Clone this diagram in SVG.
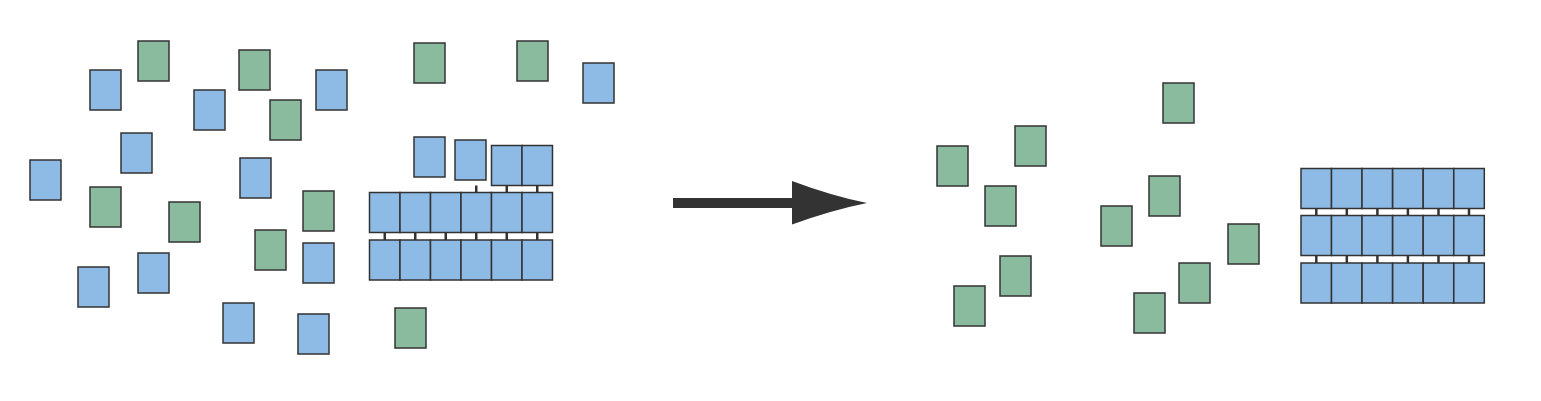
<svg xmlns="http://www.w3.org/2000/svg" width="1541" height="401" viewBox="0 0 1541 401">
<style>
.b{fill:#8ebbe6;stroke:#333;stroke-width:1.5}
.g{fill:#8bbb9e;stroke:#333;stroke-width:1.5}
.k{stroke:#333;stroke-width:2.5}
</style>
<defs>
<rect id="cb" class="b" width="31" height="40"/>
<rect id="cg" class="g" width="31" height="40"/>
<rect id="gc" class="b" width="30.5" height="40"/>
</defs>
<rect width="1541" height="401" fill="#fff"/>
<g id="left-scatter">
<g id="n1"><use href="#cb" x="90" y="70"/></g>
<g id="n2"><use href="#cg" x="138" y="41"/></g>
<g id="n3"><use href="#cb" x="194" y="90"/></g>
<g id="n4"><use href="#cg" x="239" y="50"/></g>
<g id="n5"><use href="#cg" x="270" y="100"/></g>
<g id="n6"><use href="#cb" x="316" y="70"/></g>
<g id="n7"><use href="#cb" x="121" y="133"/></g>
<g id="n8"><use href="#cb" x="30" y="160"/></g>
<g id="n9"><use href="#cb" x="240" y="158"/></g>
<g id="n10"><use href="#cg" x="90" y="187"/></g>
<g id="n11"><use href="#cg" x="169" y="202"/></g>
<g id="n12"><use href="#cg" x="303" y="191"/></g>
<g id="n13"><use href="#cg" x="255" y="230"/></g>
<g id="n14"><use href="#cb" x="303" y="243"/></g>
<g id="n15"><use href="#cb" x="78" y="267"/></g>
<g id="n16"><use href="#cb" x="138" y="253"/></g>
<g id="n17"><use href="#cb" x="223" y="303"/></g>
<g id="n18"><use href="#cb" x="298" y="314"/></g>
<g id="n19"><use href="#cg" x="395" y="308"/></g>
<g id="n20"><use href="#cg" x="414" y="43"/></g>
<g id="n21"><use href="#cg" x="517" y="41"/></g>
<g id="n22"><use href="#cb" x="583" y="63"/></g>
<g id="n23"><use href="#cb" x="414" y="137"/></g>
<g id="n24"><use href="#cb" x="455" y="140"/></g>
</g>
<g id="connectors">
<g id="left-bars">
<line class="k" x1="476.25" y1="185.5" x2="476.25" y2="192.5"/>
<line class="k" x1="506.75" y1="185.5" x2="506.75" y2="192.5"/>
<line class="k" x1="537.25" y1="185.5" x2="537.25" y2="192.5"/>
<line class="k" x1="384.75" y1="232.5" x2="384.75" y2="240"/>
<line class="k" x1="415.25" y1="232.5" x2="415.25" y2="240"/>
<line class="k" x1="445.75" y1="232.5" x2="445.75" y2="240"/>
<line class="k" x1="476.25" y1="232.5" x2="476.25" y2="240"/>
<line class="k" x1="506.75" y1="232.5" x2="506.75" y2="240"/>
<line class="k" x1="537.25" y1="232.5" x2="537.25" y2="240"/>
</g>
<g id="right-bars">
<line class="k" x1="1316.3" y1="208.5" x2="1316.3" y2="215.5"/>
<line class="k" x1="1346.8" y1="208.5" x2="1346.8" y2="215.5"/>
<line class="k" x1="1377.4" y1="208.5" x2="1377.4" y2="215.5"/>
<line class="k" x1="1407.9" y1="208.5" x2="1407.9" y2="215.5"/>
<line class="k" x1="1438.5" y1="208.5" x2="1438.5" y2="215.5"/>
<line class="k" x1="1469" y1="208.5" x2="1469" y2="215.5"/>
<line class="k" x1="1316.3" y1="255.5" x2="1316.3" y2="263"/>
<line class="k" x1="1346.8" y1="255.5" x2="1346.8" y2="263"/>
<line class="k" x1="1377.4" y1="255.5" x2="1377.4" y2="263"/>
<line class="k" x1="1407.9" y1="255.5" x2="1407.9" y2="263"/>
<line class="k" x1="1438.5" y1="255.5" x2="1438.5" y2="263"/>
<line class="k" x1="1469" y1="255.5" x2="1469" y2="263"/>
</g>
</g>
<g id="left-grid">
<use href="#gc" x="491.5" y="145.5"/><use href="#gc" x="522" y="145.5"/>
<use href="#gc" x="369.5" y="192.5"/><use href="#gc" x="400" y="192.5"/><use href="#gc" x="430.5" y="192.5"/><use href="#gc" x="461" y="192.5"/><use href="#gc" x="491.5" y="192.5"/><use href="#gc" x="522" y="192.5"/>
<use href="#gc" x="369.5" y="240"/><use href="#gc" x="400" y="240"/><use href="#gc" x="430.5" y="240"/><use href="#gc" x="461" y="240"/><use href="#gc" x="491.5" y="240"/><use href="#gc" x="522" y="240"/>
</g>
<g id="arrow">
<path d="M673,198 H792 V181 Q832,196 867,203 Q832,210 792,224.5 V208 H673 Z" fill="#333"/>
</g>
<g id="right-scatter">
<g id="m1"><use href="#cg" x="1163" y="83"/></g>
<g id="m2"><use href="#cg" x="1015" y="126"/></g>
<g id="m3"><use href="#cg" x="937" y="146"/></g>
<g id="m4"><use href="#cg" x="985" y="186"/></g>
<g id="m5"><use href="#cg" x="1149" y="176"/></g>
<g id="m6"><use href="#cg" x="1101" y="206"/></g>
<g id="m7"><use href="#cg" x="1228" y="224"/></g>
<g id="m8"><use href="#cg" x="1000" y="256"/></g>
<g id="m9"><use href="#cg" x="954" y="286"/></g>
<g id="m10"><use href="#cg" x="1179" y="263"/></g>
<g id="m11"><use href="#cg" x="1134" y="293"/></g>
</g>
<g id="right-grid">
<use href="#gc" x="1301" y="168.5"/><use href="#gc" x="1331.5" y="168.5"/><use href="#gc" x="1362" y="168.5"/><use href="#gc" x="1392.7" y="168.5"/><use href="#gc" x="1423.2" y="168.5"/><use href="#gc" x="1453.8" y="168.5"/>
<use href="#gc" x="1301" y="215.5"/><use href="#gc" x="1331.5" y="215.5"/><use href="#gc" x="1362" y="215.5"/><use href="#gc" x="1392.7" y="215.5"/><use href="#gc" x="1423.2" y="215.5"/><use href="#gc" x="1453.8" y="215.5"/>
<use href="#gc" x="1301" y="263"/><use href="#gc" x="1331.5" y="263"/><use href="#gc" x="1362" y="263"/><use href="#gc" x="1392.7" y="263"/><use href="#gc" x="1423.2" y="263"/><use href="#gc" x="1453.8" y="263"/>
</g>
</svg>
